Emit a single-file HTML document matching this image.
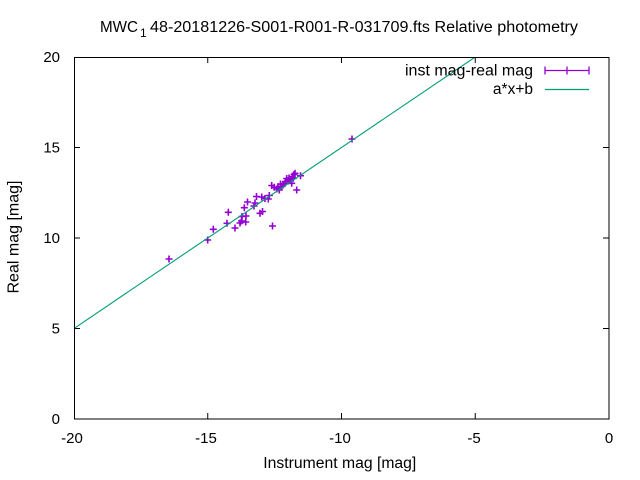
<!DOCTYPE html>
<html>
<head>
<meta charset="utf-8">
<style>
  html, body { margin: 0; padding: 0; background: #fff; }
  svg { display: block; }
  text { font-family: "Liberation Sans", "DejaVu Sans", sans-serif; fill: #000; }
</style>
</head>
<body>
<svg width="640" height="480" viewBox="0 0 640 480" xmlns="http://www.w3.org/2000/svg">
  <rect x="0" y="0" width="640" height="480" fill="#fff"/>

  <!-- Title -->
  <text x="100" y="32" font-size="15.5" textLength="38" lengthAdjust="spacingAndGlyphs">MWC</text>
  <text x="140" y="37" font-size="12">1</text>
  <text x="150" y="32" font-size="15.5" textLength="428" lengthAdjust="spacingAndGlyphs">48-20181226-S001-R001-R-031709.fts Relative photometry</text>

  <!-- ticks -->
  <g stroke="#000" stroke-width="1" fill="none">
    <line x1="207.75" y1="419" x2="207.75" y2="413"/>
    <line x1="341.5" y1="419" x2="341.5" y2="413"/>
    <line x1="475.25" y1="419" x2="475.25" y2="413"/>
    <line x1="207.75" y1="57" x2="207.75" y2="63"/>
    <line x1="341.5" y1="57" x2="341.5" y2="63"/>
    <line x1="475.25" y1="57" x2="475.25" y2="63"/>
    <line x1="74" y1="328.5" x2="80" y2="328.5"/>
    <line x1="74" y1="238" x2="80" y2="238"/>
    <line x1="74" y1="147.5" x2="80" y2="147.5"/>
    <line x1="609" y1="328.5" x2="603" y2="328.5"/>
    <line x1="609" y1="238" x2="603" y2="238"/>
    <line x1="609" y1="147.5" x2="603" y2="147.5"/>
  </g>

  <!-- y tick labels -->
  <g font-size="15" text-anchor="end">
    <text x="60" y="424">0</text>
    <text x="60" y="333.5">5</text>
    <text x="60" y="243">10</text>
    <text x="60" y="152.5">15</text>
    <text x="60" y="62">20</text>
  </g>
  <!-- x tick labels -->
  <g font-size="15" text-anchor="middle">
    <text x="72" y="443">-20</text>
    <text x="206" y="443">-15</text>
    <text x="340" y="443">-10</text>
    <text x="474" y="443">-5</text>
    <text x="609" y="443">0</text>
  </g>

  <!-- axis labels -->
  <text x="263.3" y="468" font-size="15.5" textLength="153" lengthAdjust="spacingAndGlyphs">Instrument mag [mag]</text>
  <text transform="translate(18.5,237) rotate(-90)" x="-56.5" y="0" font-size="15.5" textLength="113" lengthAdjust="spacingAndGlyphs">Real mag [mag]</text>

  <defs>
    <clipPath id="plot"><rect x="74" y="57" width="535" height="362"/></clipPath>
  </defs>

  <!-- data points -->
  <g stroke="#9400d3" stroke-width="1.6" fill="none" clip-path="url(#plot)">
    <path d="M165.5 259h7M169 255.5v7 M204.2 240h7M207.7 236.5v7 M209.8 229.3h7M213.3 225.8v7 M224.8 212.3h7M228.3 208.8v7 M223.5 223.3h7M227 219.8v7 M231.5 228h7M235 224.5v7 M236.5 223h7M240 219.5v7 M238 221h7M241.5 217.5v7 M238.5 216.5h7M242 213v7 M242.2 222h7M245.7 218.5v7 M242.5 216h7M246 212.5v7 M240.8 207.7h7M244.3 204.2v7 M244 202h7M247.5 198.5v7 M250.5 206h7M254 202.5v7 M251.5 203h7M255 199.5v7 M253 196.5h7M256.5 193v7 M256.5 213.3h7M260 209.8v7 M259 211.5h7M262.5 208v7 M258.2 197h7M261.7 193.5v7 M261.5 198.5h7M265 195v7 M264.8 199h7M268.3 195.5v7 M265.8 195.5h7M269.3 192v7 M269 226h7M272.5 222.5v7 M268.2 185.5h7M271.7 182v7 M270.8 187.3h7M274.3 183.8v7 M273.2 189h7M276.7 185.5v7 M275.8 190h7M279.3 186.5v7 M278.2 186.5h7M281.7 183v7 M281.5 183.3h7M285 179.8v7 M283.2 178.5h7M286.7 175v7 M284.8 181h7M288.3 177.5v7 M286.5 180h7M290 176.5v7 M288.2 183.3h7M291.7 179.8v7 M288.8 176.7h7M292.3 173.2v7 M289.8 178.3h7M293.3 174.8v7 M290.5 174.5h7M294 171v7 M291.5 173.3h7M295 169.8v7 M293.2 190h7M296.7 186.5v7 M297 175.7h7M300.5 172.2v7 M274.5 188h7M278 184.5v7 M279.5 185h7M283 181.5v7 M285.5 178h7M289 174.5v7 M277 184h7M280.5 180.5v7 M282 181.5h7M285.5 178v7 M348.5 139h7M352 135.5v7"/>
  </g>

  <!-- fit line -->
  <g clip-path="url(#plot)">
    <line x1="74" y1="328.5" x2="475.25" y2="57" stroke="#009e73" stroke-width="1.1"/>
  </g>

  <!-- border -->
  <rect x="74.5" y="57.5" width="534.5" height="361.5" fill="none" stroke="#000" stroke-width="1"/>

  <!-- legend -->
  <text x="405" y="75.5" font-size="15.5" textLength="128" lengthAdjust="spacingAndGlyphs">inst mag-real mag</text>
  <g stroke="#9400d3" stroke-width="1.3" fill="none">
    <line x1="545" y1="70.5" x2="589" y2="70.5"/>
    <line x1="545" y1="66.5" x2="545" y2="74.5"/>
    <line x1="589" y1="66.5" x2="589" y2="74.5"/>
    <line x1="567" y1="66.5" x2="567" y2="74.5"/>
  </g>
  <text x="533" y="94" font-size="15.5" text-anchor="end">a*x+b</text>
  <line x1="545" y1="89.5" x2="589" y2="89.5" stroke="#009e73" stroke-width="1.3"/>
</svg>
</body>
</html>
